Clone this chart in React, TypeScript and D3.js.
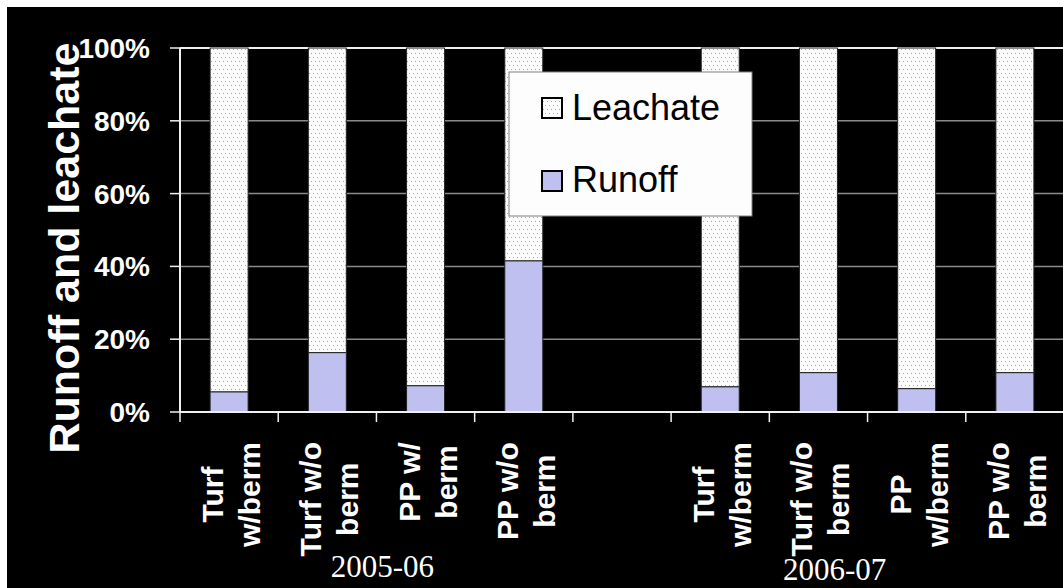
import React from "react";
import * as d3 from "d3";

const categories = ["c1", "c2", "c3", "c4", "gap", "c6", "c7", "c8", "c9"];
const labelLines: string[][] = [
  ["Turf", "w/berm"],
  ["Turf w/o", "berm"],
  ["PP w/", "berm"],
  ["PP w/o", "berm"],
  [],
  ["Turf", "w/berm"],
  ["Turf w/o", "berm"],
  ["PP", "w/berm"],
  ["PP w/o", "berm"],
];
const runoff: (number | null)[] = [5.5, 16.3, 7.2, 41.5, null, 6.9, 10.8, 6.4, 10.8];
const leachate: (number | null)[] = [94.5, 83.7, 92.8, 58.5, null, 93.1, 89.2, 93.6, 89.2];
const yTicks = [0, 20, 40, 60, 80, 100];
const seasons = ["2005-06", "2006-07"];
const seriesNames = ["Leachate", "Runoff"];

const W = 1063;
const H = 588;
const plotLeft = 180;
const plotRight = 1064;
const plotTop = 48;
const plotBottom = 412;
const RUNOFF_COLOR = "#c0c0f0";

function measure(text: string, font: string): number {
  if (typeof document === "undefined") return text.length * 15;
  const c = document.createElement("canvas");
  const ctx = c.getContext("2d");
  if (!ctx) return text.length * 15;
  ctx.font = font;
  return ctx.measureText(text).width;
}

export default function App() {
  const x = d3.scaleBand<string>().domain(categories).range([plotLeft, plotRight]).paddingInner(0).paddingOuter(0);
  const y = d3.scaleLinear().domain([0, 100]).range([plotBottom, plotTop]);
  const step = x.step();
  const barW = 38;
  const labelFont = "bold 30px 'Liberation Sans', Arial, sans-serif";

  const seasonPos = [
    { x: plotLeft + step * 2 + 6, y: 577 },
    { x: plotLeft + step * 7 - 33, y: 580 },
  ];

  return (
    <svg
      width={W}
      height={H}
      style={{ position: "fixed", left: 0, top: 0, display: "block" }}
      fontFamily="'Liberation Sans', Arial, sans-serif"
    >
      <defs>
        <pattern id="dots" width="8" height="8" patternUnits="userSpaceOnUse">
          <rect width="8" height="8" fill="#fcfcfc" />
          <rect x="1" y="1" width="1" height="1" fill="#a8a8a8" />
          <rect x="5" y="1" width="1" height="1" fill="#a8a8a8" />
          <rect x="3" y="5" width="1" height="1" fill="#a8a8a8" />
          <rect x="7" y="5" width="1" height="1" fill="#a8a8a8" />
        </pattern>
      </defs>
      <rect x={0} y={0} width={W} height={H} fill="#ffffff" />
      <rect x={7} y={7} width={W - 7} height={H - 7} fill="#000000" />

      {/* gridlines */}
      {yTicks.filter((t) => t > 0 && t < 100).map((t) => (
        <line key={t} x1={plotLeft} x2={plotRight} y1={y(t)} y2={y(t)} stroke="#8a8a8a" strokeWidth={1.5} />
      ))}
      <line x1={plotLeft} x2={plotRight} y1={y(100)} y2={y(100)} stroke="#f0f0f0" strokeWidth={2} />

      {/* bars */}
      {categories.map((c, i) => {
        const r = runoff[i];
        const l = leachate[i];
        if (r == null || l == null) return null;
        const cx = (x(c) as number) + step / 2;
        const x0 = cx - barW / 2;
        return (
          <g key={c}>
            <rect x={x0} y={y(r + l)} width={barW} height={y(r) - y(r + l)} fill="url(#dots)" stroke="#222" strokeWidth={1} />
            <rect x={x0} y={y(r)} width={barW} height={y(0) - y(r)} fill={RUNOFF_COLOR} stroke="#222" strokeWidth={1} />
          </g>
        );
      })}

      {/* axes */}
      <line x1={plotLeft} x2={plotLeft} y1={plotTop} y2={plotBottom} stroke="#f0f0f0" strokeWidth={2} />
      <line x1={plotLeft} x2={plotRight} y1={plotBottom} y2={plotBottom} stroke="#f0f0f0" strokeWidth={2} />
      {yTicks.map((t) => (
        <g key={t}>
          <line x1={plotLeft - 10} x2={plotLeft} y1={y(t)} y2={y(t)} stroke="#f0f0f0" strokeWidth={1.5} />
          <text x={150} y={y(t)} dy="0.36em" textAnchor="end" fill="#ffffff" fontWeight="bold" fontSize={28}>
            {t}%
          </text>
        </g>
      ))}
      {categories.map((c) => (
        <line key={c} x1={x(c) as number} x2={x(c) as number} y1={plotBottom} y2={plotBottom + 10} stroke="#f0f0f0" strokeWidth={1.5} />
      ))}

      {/* category labels */}
      {categories.map((c, i) => {
        const lines = labelLines[i];
        if (!lines.length) return null;
        const cx = (x(c) as number) + step / 2;
        const maxW = Math.max(...lines.map((s) => measure(s, labelFont)));
        const cy = 442 + maxW / 2;
        const offs = lines.length === 2 ? [-6, 31] : [12];
        return (
          <g key={c} transform={`translate(${cx},${cy}) rotate(-90)`}>
            {lines.map((s, j) => (
              <text key={j} x={0} y={offs[j]} textAnchor="middle" fill="#ffffff" fontWeight="bold" fontSize={30}>
                {s}
              </text>
            ))}
          </g>
        );
      })}

      {/* season labels */}
      {seasons.map((s, i) => (
        <text key={s} x={seasonPos[i].x} y={seasonPos[i].y} textAnchor="middle" fill="#ffffff" fontSize={31} fontFamily="'Liberation Serif', 'Times New Roman', serif">
          {s}
        </text>
      ))}

      {/* y axis title */}
      <text transform="translate(79,248) rotate(-90)" textAnchor="middle" fill="#ffffff" fontWeight="bold" fontSize={43}>
        Runoff and leachate
      </text>

      {/* legend */}
      <rect x={509} y={72} width={243} height={144} fill="#fdfdfd" stroke="#808080" strokeWidth={1} />
      {seriesNames.map((n, i) => (
        <g key={n}>
          <rect x={542} y={98 + i * 73} width={20} height={20} fill={n === "Leachate" ? "url(#dots)" : RUNOFF_COLOR} stroke="#000" strokeWidth={2} />
          <text x={572} y={120 + i * 72} fill="#000" fontSize={36}>
            {n}
          </text>
        </g>
      ))}
    </svg>
  );
}
